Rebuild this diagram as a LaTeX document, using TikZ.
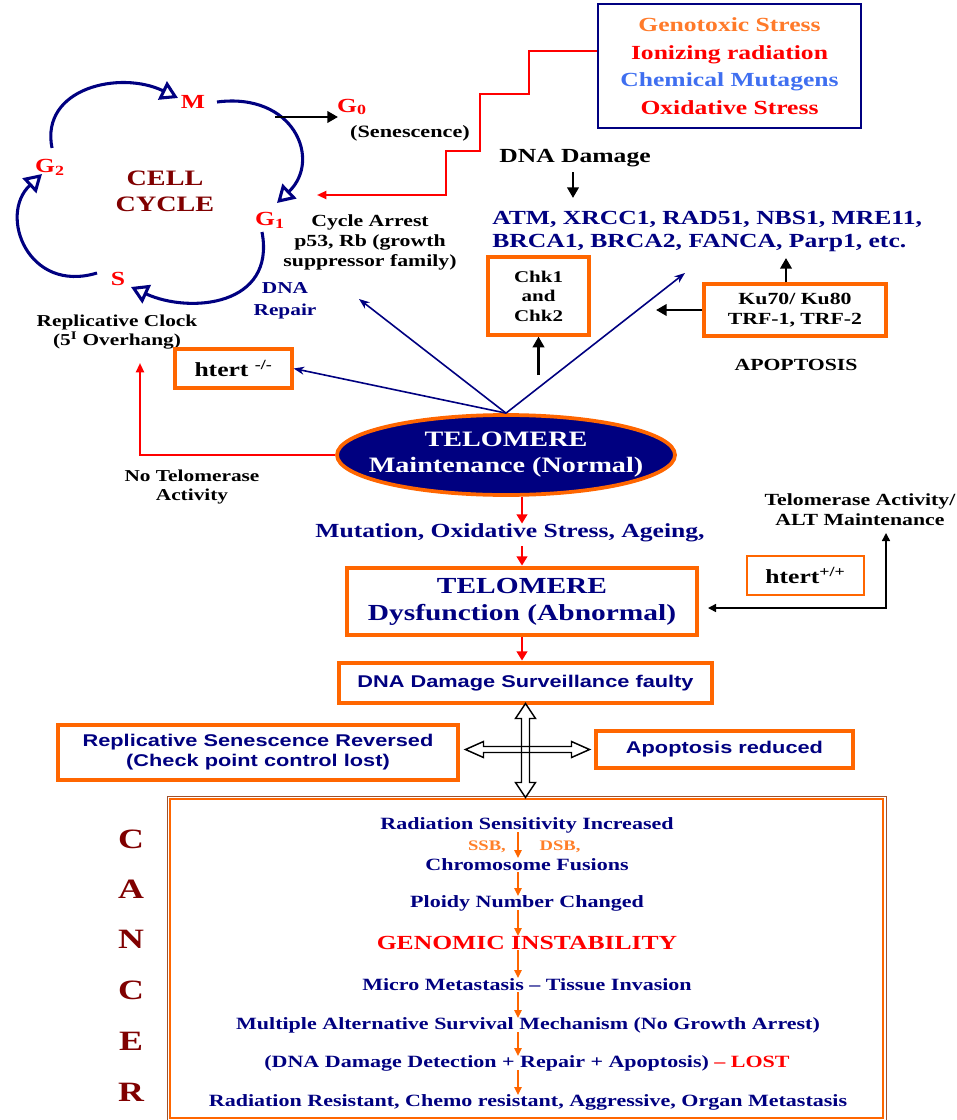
\documentclass[tikz,border=0pt]{standalone}
\usepackage{fontspec}
\setmainfont[FakeStretch=1.28]{Liberation Serif}
\newfontfamily\arialw[FakeStretch=1.28]{Liberation Sans}
\usetikzlibrary{arrows.meta,shapes.geometric,calc}

\definecolor{navyC}{HTML}{000080}
\definecolor{redC}{HTML}{FF0000}
\definecolor{orangeC}{HTML}{FF6600}
\definecolor{genoC}{HTML}{FF7A2A}
\definecolor{chemC}{HTML}{3F6FF0}
\definecolor{maroonC}{HTML}{800000}
\definecolor{brownC}{HTML}{A0522D}
\definecolor{sbC}{HTML}{FF7F2A}

\newcommand\fpx[2]{\fontsize{#1pt}{#2pt}\selectfont}

\tikzset{
  lbl/.style={inner sep=0pt, align=center},
  phase/.style={lbl, text=redC, font=\bfseries\fpx{15}{17}},
  obox/.style={draw=orangeC, fill=white, inner sep=0pt, align=center},
  thickbox/.style={obox, line width=3.6pt},
  midbox/.style={obox, line width=2.4pt},
  thinbox/.style={obox, line width=1.5pt},
  ctxt/.style={lbl, text=navyC, font=\bfseries\fpx{12.9}{15}},
  cyc/.style={draw=navyC, line width=2.3pt, -{Triangle[open, length=13pt, width=15pt]}},
  blk/.style={line width=2.2pt, -{Triangle[length=8pt, width=8.5pt]}},
  redarr/.style={draw=redC, line width=2.2pt, -{Triangle[length=7pt, width=8pt]}},
  redthin/.style={draw=redC, line width=1.5pt, -{Triangle[length=7pt, width=6pt]}},
  navarr/.style={draw=navyC, line width=1.2pt, -{Stealth[length=8pt, width=6pt]}},
  oarr/.style={draw=orangeC, line width=1.2pt, -{Triangle[length=6pt, width=5.5pt]}},
}

\begin{document}
\begin{tikzpicture}[x=0.75pt, y=-0.75pt]
\path[use as bounding box] (0,0) rectangle (956,1120);

% ---------- stress sources ----------
\node[lbl, draw=navyC, line width=1.9pt, minimum width=197pt, minimum height=93pt,
      font=\bfseries\fpx{15}{20.6}] (stress) at (729.5,66)
  {\textcolor{genoC}{Genotoxic Stress}\\\textcolor{redC}{Ionizing radiation}\\
   \textcolor{chemC}{Chemical Mutagens}\\\textcolor{redC}{Oxidative Stress}};
\coordinate (arrestIn) at (317,195);
\draw[redthin] ([yshift=11.25pt]stress.west) -- ++(-68,0) -- ++(0,43) -- ++(-49,0)
  -- ++(0,57) -- ++(-34,0) -- ++(0,44) -- (arrestIn);

% ---------- cell cycle ----------
\node[lbl, text=maroonC, font=\bfseries\fpx{16.5}{19.5}] (cc) at (165,191) {CELL\\CYCLE};
\node[phase] (M) at (193,102) {M};
\node[phase] (G2) at (50,167) {G\textsubscript{2}};
\node[phase] (G1) at (270,220) {G\textsubscript{1}};
\node[phase] (S) at (118,279) {S};
\node[phase] (G0) at (352,107) {G\textsubscript{0}};

\coordinate (a1s) at (52,148);  \coordinate (a1e) at (178,98);
\coordinate (a2s) at (217,102); \coordinate (a2e) at (277,203);
\coordinate (a3s) at (262,232); \coordinate (a3e) at (131,287);
\coordinate (a4s) at (97,273);  \coordinate (a4e) at (42,174);
\draw[cyc] (a1s) .. controls (40,88) and (120,70) .. (a1e);
\draw[cyc] (a2s) .. controls (294,92) and (322,160) .. (a2e);
\draw[cyc] (a3s) .. controls (276,306) and (190,314) .. (a3e);
\draw[cyc] (a4s) .. controls (28,294) and (-2,215) .. (a4e);

\coordinate (g0from) at (275,117);
\coordinate (g0to) at (338,117);
\draw[blk] (g0from) -- (g0to);
\node[lbl, font=\bfseries\fpx{13}{15}] (sen) at (410,133) {(Senescence)};

\node[lbl, font=\bfseries\fpx{12.75}{15}] (arrest) at (370,242)
  {Cycle Arrest\\p53, Rb (growth\\suppressor family)};
\node[lbl, text=navyC, font=\bfseries\fpx{12.5}{16.5}] (repair) at (285,301) {DNA\\Repair};
\node[lbl, font=\bfseries\fpx{12.5}{14}] (clock) at (117,332)
  {Replicative Clock\\(5\textsuperscript{I} Overhang)};
\node[midbox, minimum width=87.75pt, minimum height=29.25pt, font=\bfseries\fpx{15}{18}]
  (htm) at (233.5,368.5) {htert \textsuperscript{-/-}};
\node[lbl, font=\bfseries\fpx{12.5}{14.25}] (notel) at (192,487) {No Telomerase\\Activity};

% ---------- telomere maintenance ----------
\node[ellipse, draw=orangeC, fill=navyC, line width=2.8pt, minimum width=253.5pt,
      minimum height=60pt, inner sep=0pt] (ell) at (506,455) {};
\node[lbl, text=white, font=\bfseries\fpx{16.5}{19.5}] (elltxt) at (ell.center)
  {TELOMERE\\Maintenance (Normal)};
\coordinate (clockIn) at (140,363);
\draw[redthin] (ell.west) -| (clockIn);

% ---------- DNA damage response ----------
\node[lbl, font=\bfseries\fpx{15}{18}] (dmg) at (575,158) {DNA Damage};
\coordinate (atmTop) at (573,198);
\draw[blk, shorten <=4pt] (dmg.south -| atmTop) -- (atmTop);
\node[lbl, anchor=west, align=left, text=navyC, font=\bfseries\fpx{15}{17.25}] (atm)
  at (492,231.5) {ATM, XRCC1, RAD51, NBS1, MRE11,\\BRCA1, BRCA2, FANCA, Parp1, etc.};
\node[midbox, minimum width=75.75pt, minimum height=58.5pt, font=\bfseries\fpx{12.3}{14.6}]
  (chk) at (538.5,296) {Chk1\\and\\Chk2};
\coordinate (chkFrom) at (538.5,375);
\draw[blk] (chkFrom) -- (chk.south);
\node[midbox, minimum width=136.5pt, minimum height=39pt, font=\bfseries\fpx{12.75}{15}]
  (ku) at (795,310) {Ku70/ Ku80\\TRF-1, TRF-2};
\coordinate (kuOut) at (656,310);
\draw[blk] (ku.west) -- (kuOut);
\coordinate (atmBot) at (786,258);
\draw[blk] (ku.north -| atmBot) -- (atmBot);
\node[lbl, font=\bfseries\fpx{12.75}{15}] (apop) at (796,365) {APOPTOSIS};

\coordinate (repIn) at (359,299);
\coordinate (atmIn) at (685,273);
\draw[navarr] (ell.north) -- (htm.east);
\draw[navarr] (ell.north) -- (repIn);
\draw[navarr] (ell.north) -- (atmIn);

% ---------- dysfunction chain ----------
\coordinate (ax) at (522,0);
\node[lbl, text=navyC, font=\bfseries\fpx{15}{18}] (mut) at (510,533)
  {Mutation, Oxidative Stress, Ageing,};
\draw[redarr] (ell.south -| ax) -- (mut.north -| ax);
\node[thickbox, minimum width=262.5pt, minimum height=50.25pt, text=navyC,
      font=\bfseries\fpx{17.25}{20.25}] (dys) at (522,601.5) {TELOMERE\\Dysfunction (Abnormal)};
\draw[redarr, shorten <=3pt] (mut.south -| ax) -- (dys.north -| ax);
\node[thickbox, minimum width=279.75pt, minimum height=30pt, text=navyC,
      font=\arialw\bfseries\fpx{12.75}{15}] (surv) at (525.5,683) {DNA Damage Surveillance faulty};
\draw[redarr] (dys.south -| ax) -- (surv.north -| ax);

\node[lbl, font=\bfseries\fpx{12.75}{15}] (alt) at (860,510) {Telomerase Activity/\\ALT Maintenance};
\node[thinbox, minimum width=87.75pt, minimum height=29.25pt, font=\bfseries\fpx{15}{18}]
  (htp) at (805.5,575.5) {htert\textsuperscript{+/+}};
\coordinate (dysIn) at (708,608);
\coordinate (altIn) at (886,533);
\draw[line width=1.1pt, {Triangle[length=6pt,width=6pt]}-{Triangle[length=6pt,width=6pt]}]
  (dysIn) -| (altIn);

% ---------- outcomes ----------
\node[thickbox, minimum width=300pt, minimum height=41.25pt, text=navyC,
      font=\arialw\bfseries\fpx{12.75}{15}] (repl) at (258,752.5)
  {Replicative Senescence Reversed\\(Check point control lost)};
\node[thickbox, minimum width=192.75pt, minimum height=27.75pt, text=navyC,
      font=\arialw\bfseries\fpx{12.75}{15}] (apr) at (724.5,749.5) {Apoptosis reduced};

% ---------- cancer box ----------
\node[draw=orangeC, line width=1.8pt, minimum width=534.75pt, minimum height=239.25pt,
      inner sep=0pt] (cancer) at (526.5,958.5) {};
\draw[brownC, line width=0.6pt] ([shift={(-1.4pt,1.4pt)}]cancer.north west)
  rectangle ([shift={(1.4pt,-1.2pt)}]cancer.south east);

% hollow four-way arrow
\coordinate (xc) at (surv.south |- apr.west);
\begin{scope}[shift={(xc)}, line width=1.1pt]
  \draw (0,-46) -- (10,-31) -- (4,-31) -- (4,33) -- (10,33) -- (0,48) -- (-10,33)
    -- (-4,33) -- (-4,-31) -- (-10,-31) -- cycle;
  \draw (-60,0) -- (-42,-8) -- (-42,-3) -- (46,-3) -- (46,-8) -- (64,0) -- (46,8)
    -- (46,3) -- (-42,3) -- (-42,8) -- cycle;
\end{scope}

\foreach \L/\yy [count=\i] in {C/839,A/889,N/939,C/990,E/1041,R/1092}
  \node[lbl, text=maroonC, font=\bfseries\fpx{21}{24}] (can\i) at (131,\yy) {\L};

\node[ctxt] (t1) at (527,825) {Radiation Sensitivity Increased};
\node[lbl, text=sbC, font=\bfseries\fpx{10.9}{12}] (ssb) at (487,847) {SSB,};
\node[lbl, text=sbC, font=\bfseries\fpx{10.9}{12}] (dsb) at (560,847) {DSB,};
\node[ctxt] (t2) at (527,865) {Chromosome Fusions};
\node[ctxt] (t3) at (527,903) {Ploidy Number Changed};
\node[ctxt, text=redC, font=\bfseries\fpx{15}{18}] (t4) at (527,943) {GENOMIC INSTABILITY};
\node[ctxt] (t5) at (527,985) {Micro Metastasis – Tissue Invasion};
\node[ctxt] (t6) at (528,1025) {Multiple Alternative Survival Mechanism (No Growth Arrest)};
\node[ctxt] (t7) at (527,1063) {(DNA Damage Detection + Repair + Apoptosis) \textcolor{redC}{– LOST}};
\node[ctxt] (t8) at (528,1102) {Radiation Resistant, Chemo resistant, Aggressive, Organ Metastasis};

\coordinate (ox) at (518,0);
\foreach \a/\b in {t1/t2,t2/t3,t3/t4,t4/t5,t5/t6,t6/t7,t7/t8}
  \draw[oarr] ($(\a.center -| ox)+(0,7)$) -- ($(\b.center -| ox)+(0,-7)$);

\end{tikzpicture}
\end{document}
